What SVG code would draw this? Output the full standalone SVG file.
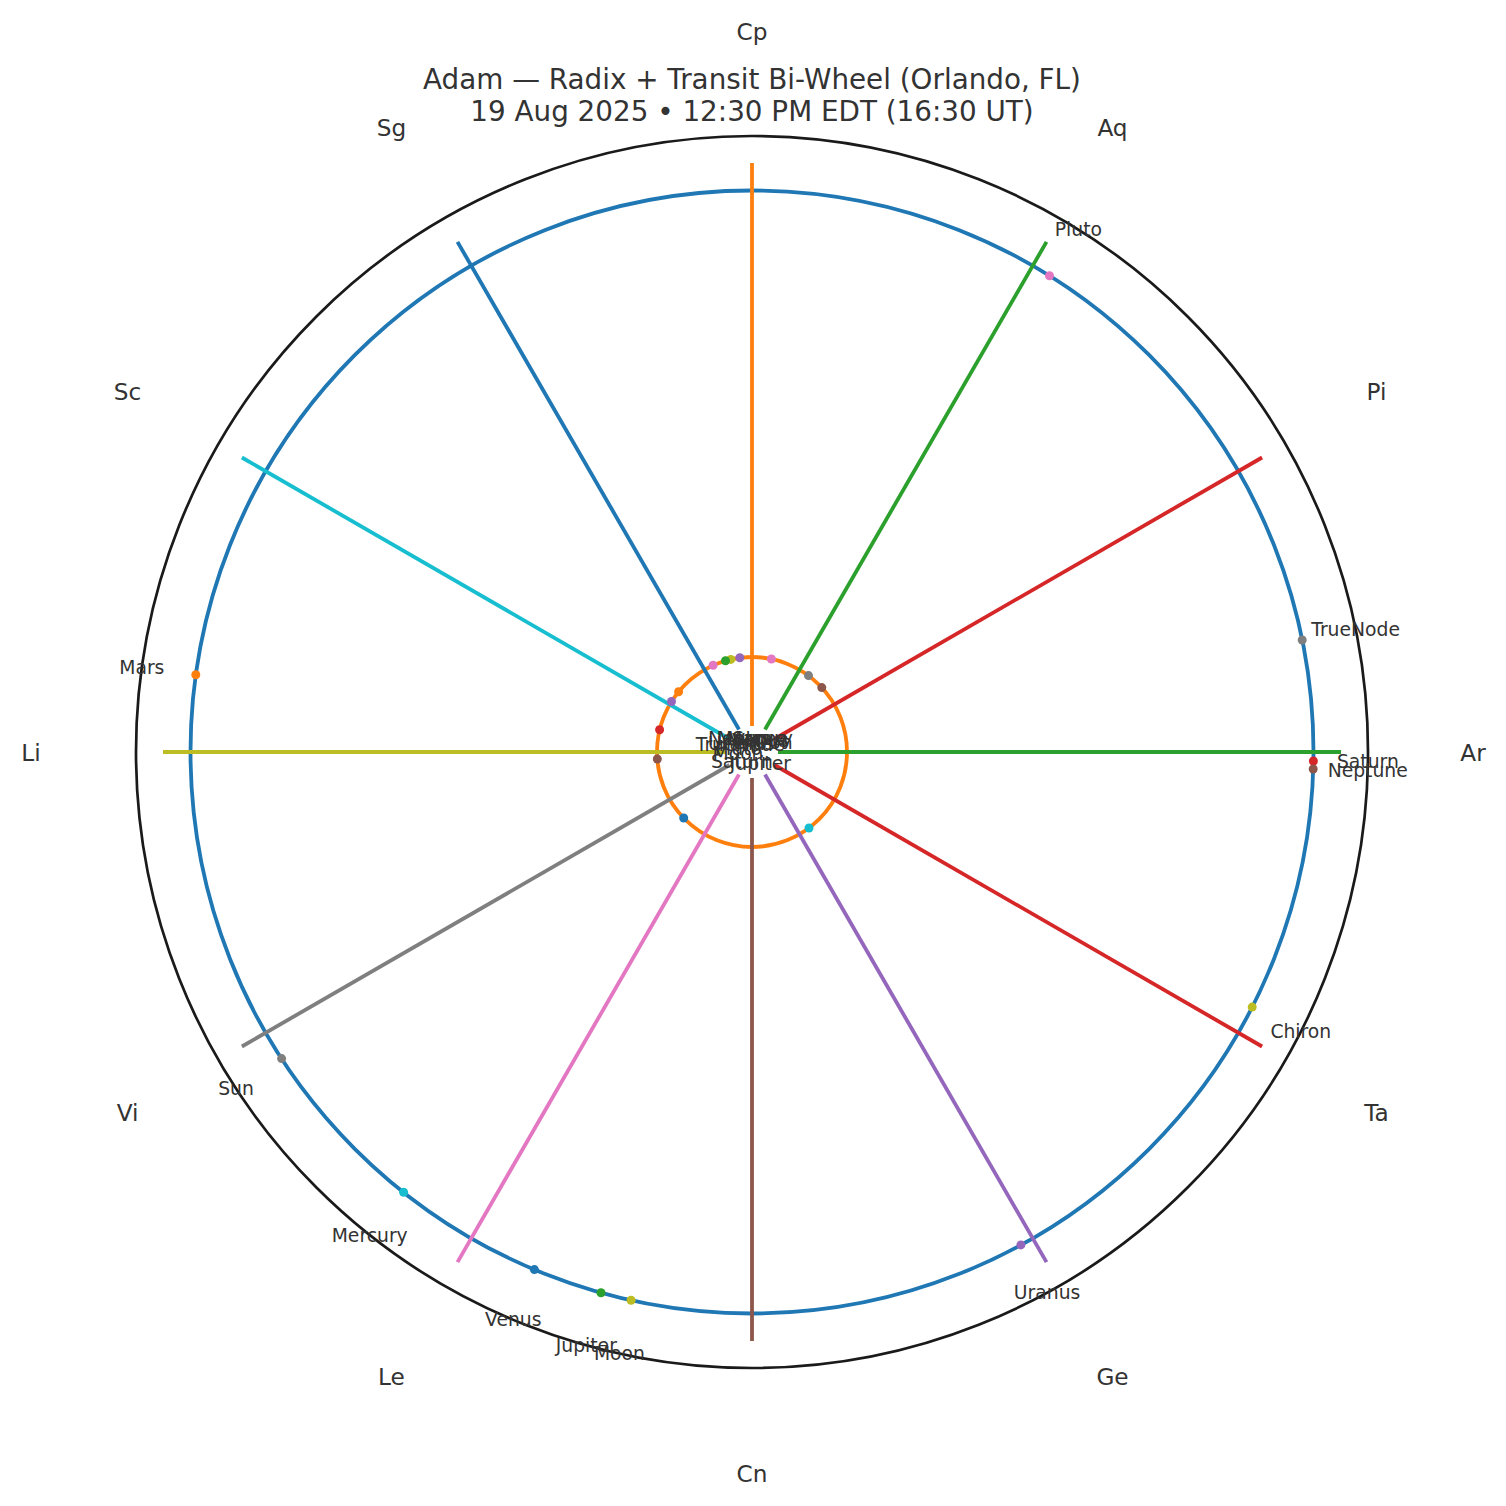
<svg xmlns="http://www.w3.org/2000/svg" width="1506" height="1506" viewBox="0 0 1506 1506">
<style>
text{font-family:"DejaVu Sans","Liberation Sans",sans-serif;fill:#333333}
.title{font-size:27.8px;text-anchor:middle}
.sign{font-size:23.2px;text-anchor:middle;dominant-baseline:central}
.pl{font-size:18.75px;text-anchor:middle;dominant-baseline:central}
.cusp{stroke-width:3.8;fill:none}
.dot{stroke:none}
</style>
<rect x="0" y="0" width="1506" height="1506" fill="#ffffff"/>
<g id="title">
<text class="title" x="752" y="89">Adam — Radix + Transit Bi-Wheel (Orlando, FL)</text>
<text class="title" x="752" y="121">19 Aug 2025 • 12:30 PM EDT (16:30 UT)</text>
</g>
<g id="rings">
<circle id="transit-ring" cx="752" cy="752" r="561.5" fill="none" stroke="#1f77b4" stroke-width="3.8"/>
<circle id="radix-ring" cx="752" cy="752" r="95" fill="none" stroke="#ff7f0e" stroke-width="3.8"/>
</g>
<g id="connectors">
<line class="cusp" x1="778" y1="752" x2="1341" y2="752" stroke="#2ca02c"/>
<line class="cusp" x1="774.5" y1="739" x2="1262.1" y2="457.5" stroke="#d62728"/>
<line class="cusp" x1="765" y1="729.5" x2="1046.5" y2="241.9" stroke="#2ca02c"/>
<line class="cusp" x1="752" y1="726" x2="752" y2="163" stroke="#ff7f0e"/>
<line class="cusp" x1="739" y1="729.5" x2="457.5" y2="241.9" stroke="#1f77b4"/>
<line class="cusp" x1="729.5" y1="739" x2="241.9" y2="457.5" stroke="#17becf"/>
<line class="cusp" x1="726" y1="752" x2="163" y2="752" stroke="#bcbd22"/>
<line class="cusp" x1="729.5" y1="765" x2="241.9" y2="1046.5" stroke="#7f7f7f"/>
<line class="cusp" x1="739" y1="774.5" x2="457.5" y2="1262.1" stroke="#e377c2"/>
<line class="cusp" x1="752" y1="778" x2="752" y2="1341" stroke="#8c564b"/>
<line class="cusp" x1="765" y1="774.5" x2="1046.5" y2="1262.1" stroke="#9467bd"/>
<line class="cusp" x1="774.5" y1="765" x2="1262.1" y2="1046.5" stroke="#d62728"/>
</g>
<circle id="frame" cx="752" cy="752" r="616" fill="none" stroke="#1a1a1a" stroke-width="2.7"/>
<g id="signs">
<text class="sign" x="1473" y="752">Ar</text>
<text class="sign" x="1376.4" y="391.5">Pi</text>
<text class="sign" x="1112.5" y="127.6">Aq</text>
<text class="sign" x="752" y="31">Cp</text>
<text class="sign" x="391.5" y="127.6">Sg</text>
<text class="sign" x="127.6" y="391.5">Sc</text>
<text class="sign" x="31" y="752">Li</text>
<text class="sign" x="127.6" y="1112.5">Vi</text>
<text class="sign" x="391.5" y="1376.4">Le</text>
<text class="sign" x="752" y="1473">Cn</text>
<text class="sign" x="1112.5" y="1376.4">Ge</text>
<text class="sign" x="1376.4" y="1112.5">Ta</text>
</g>
<g id="radix-planets">
<g id="r-sun"><circle class="dot" cx="739.8" cy="657.8" r="4.5" fill="#9467bd"/><text class="pl" x="750.2" y="738.1">Sun</text></g>
<g id="r-moon"><circle class="dot" cx="657.3" cy="759" r="4.5" fill="#8c564b"/><text class="pl" x="738" y="753">Moon</text></g>
<g id="r-mercury"><circle class="dot" cx="771.4" cy="659" r="4.5" fill="#e377c2"/><text class="pl" x="754.9" y="738.3">Mercury</text></g>
<g id="r-venus"><circle class="dot" cx="808.5" cy="675.6" r="4.5" fill="#7f7f7f"/><text class="pl" x="760.3" y="740.7">Venus</text></g>
<g id="r-mars"><circle class="dot" cx="730.8" cy="659.4" r="4.5" fill="#bcbd22"/><text class="pl" x="748.9" y="738.4">Mars</text></g>
<g id="r-jupiter"><circle class="dot" cx="809" cy="828" r="4.5" fill="#17becf"/><text class="pl" x="760.4" y="763.2">Jupiter</text></g>
<g id="r-saturn"><circle class="dot" cx="683.7" cy="818" r="4.5" fill="#1f77b4"/><text class="pl" x="741.9" y="761.7">Saturn</text></g>
<g id="r-uranus"><circle class="dot" cx="678.6" cy="691.7" r="4.5" fill="#ff7f0e"/><text class="pl" x="741.2" y="743.1">Uranus</text></g>
<g id="r-neptune"><circle class="dot" cx="725.5" cy="660.8" r="4.5" fill="#2ca02c"/><text class="pl" x="748.1" y="738.6">Neptune</text></g>
<g id="r-pluto"><circle class="dot" cx="659.6" cy="729.8" r="4.5" fill="#d62728"/><text class="pl" x="738.4" y="748.7">Pluto</text></g>
<g id="r-truenode"><circle class="dot" cx="671.5" cy="701.5" r="4.5" fill="#9467bd"/><text class="pl" x="740.1" y="744.6">TrueNode</text></g>
<g id="r-chiron"><circle class="dot" cx="821.8" cy="687.6" r="4.5" fill="#8c564b"/><text class="pl" x="762.3" y="742.5">Chiron</text></g>
<g id="r-point"><circle class="dot" cx="713.1" cy="665.3" r="4.5" fill="#e377c2"/></g>
</g>
<g id="transit-planets">
<g id="t-sun"><circle class="dot" cx="281.6" cy="1058.6" r="4.5" fill="#7f7f7f"/><text class="pl" x="236" y="1088.4">Sun</text></g>
<g id="t-moon"><circle class="dot" cx="631.1" cy="1300.3" r="4.5" fill="#bcbd22"/><text class="pl" x="619.4" y="1353.6">Moon</text></g>
<g id="t-mercury"><circle class="dot" cx="403.6" cy="1192.3" r="4.5" fill="#17becf"/><text class="pl" x="369.7" y="1235">Mercury</text></g>
<g id="t-venus"><circle class="dot" cx="534.4" cy="1269.6" r="4.5" fill="#1f77b4"/><text class="pl" x="513.3" y="1319.9">Venus</text></g>
<g id="t-mars"><circle class="dot" cx="195.8" cy="674.8" r="4.5" fill="#ff7f0e"/><text class="pl" x="141.8" y="667.3">Mars</text></g>
<g id="t-jupiter"><circle class="dot" cx="601" cy="1292.8" r="4.5" fill="#2ca02c"/><text class="pl" x="586.3" y="1345.3">Jupiter</text></g>
<g id="t-saturn"><circle class="dot" cx="1313.4" cy="761" r="4.5" fill="#d62728"/><text class="pl" x="1367.9" y="761.9">Saturn</text></g>
<g id="t-uranus"><circle class="dot" cx="1020.9" cy="1244.9" r="4.5" fill="#9467bd"/><text class="pl" x="1047.1" y="1292.7">Uranus</text></g>
<g id="t-neptune"><circle class="dot" cx="1313.2" cy="769" r="4.5" fill="#8c564b"/><text class="pl" x="1367.7" y="770.7">Neptune</text></g>
<g id="t-pluto"><circle class="dot" cx="1049.5" cy="275.8" r="4.5" fill="#e377c2"/><text class="pl" x="1078.4" y="229.6">Pluto</text></g>
<g id="t-truenode"><circle class="dot" cx="1302.2" cy="640" r="4.5" fill="#7f7f7f"/><text class="pl" x="1355.6" y="629.1">TrueNode</text></g>
<g id="t-chiron"><circle class="dot" cx="1252.2" cy="1007.1" r="4.5" fill="#bcbd22"/><text class="pl" x="1300.8" y="1031.9">Chiron</text></g>
</g>
</svg>
